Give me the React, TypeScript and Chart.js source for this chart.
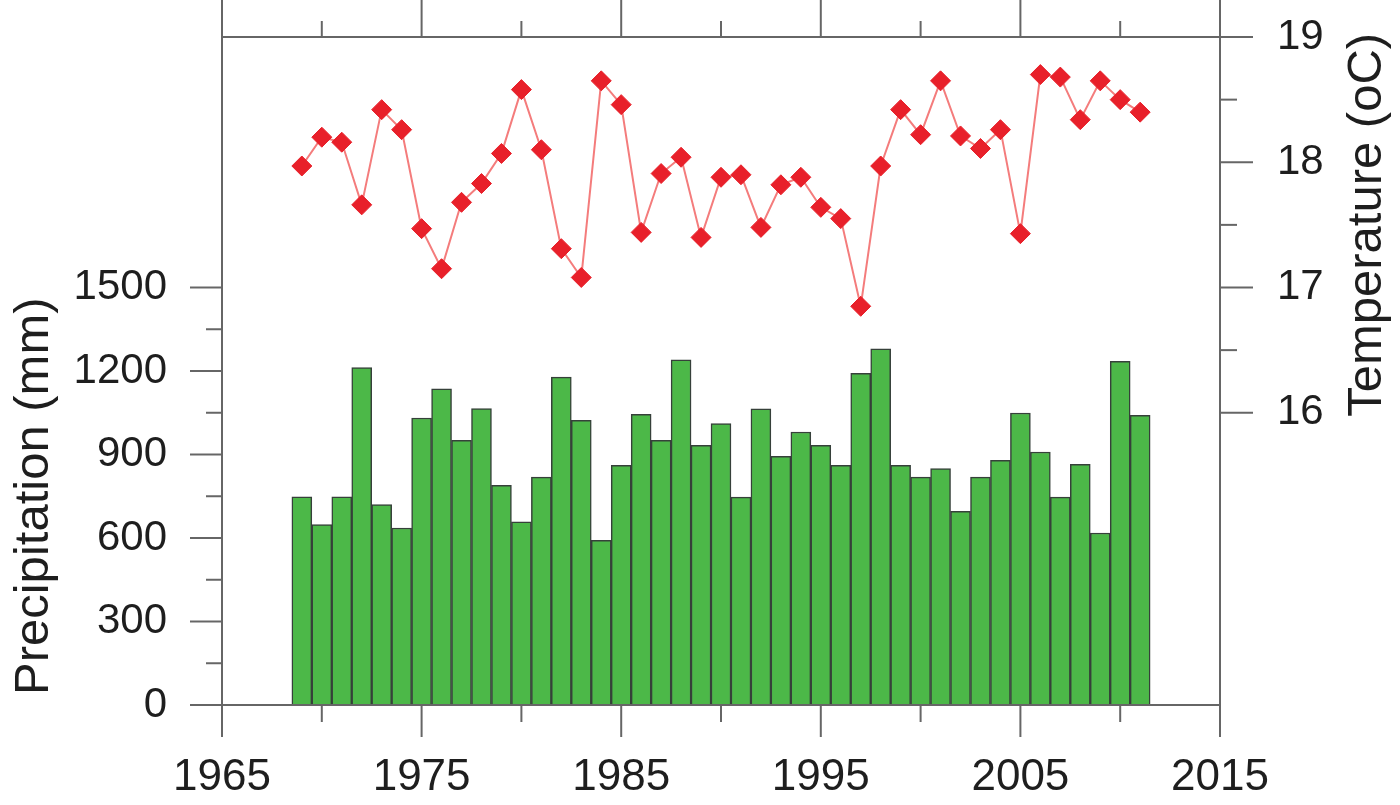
import React, { useEffect, useRef } from 'react';
import { Chart, registerables } from 'chart.js';

Chart.register(...registerables);

const years = [
  1969, 1970, 1971, 1972, 1973, 1974, 1975, 1976, 1977, 1978, 1979, 1980, 1981, 1982, 1983,
  1984, 1985, 1986, 1987, 1988, 1989, 1990, 1991, 1992, 1993, 1994, 1995, 1996, 1997, 1998,
  1999, 2000, 2001, 2002, 2003, 2004, 2005, 2006, 2007, 2008, 2009, 2010, 2011,
];

const precipitation = [
  748, 648, 748, 1212, 720, 636, 1031, 1136, 951, 1065, 789, 658, 819, 1178, 1023,
  592, 861, 1044, 951, 1240, 933, 1011, 747, 1064, 893, 981, 933, 861, 1192, 1280,
  861, 819, 849, 696, 819, 879, 1049, 909, 747, 865, 618, 1235, 1041,
];

const temperature = [
  17.97, 18.2, 18.16, 17.66, 18.42, 18.26, 17.47, 17.15, 17.68, 17.83, 18.07, 18.58, 18.1, 17.31, 17.08,
  18.65, 18.46, 17.44, 17.91, 18.04, 17.4, 17.88, 17.9, 17.48, 17.82, 17.88, 17.64, 17.55, 16.85, 17.97,
  18.42, 18.22, 18.65, 18.21, 18.11, 18.26, 17.43, 18.7, 18.68, 18.34, 18.65, 18.5, 18.4,
];

const xMajorTicks = [1965, 1975, 1985, 1995, 2005, 2015];
const xMinorTicks = [1970, 1980, 1990, 2000, 2010];
const precipMajorTicks = [0, 300, 600, 900, 1200, 1500];
const precipMinorTicks = [150, 450, 750, 1050, 1350];
const tempMajorTicks = [16, 17, 18, 19];
const tempMinorTicks = [16.5, 17.5, 18.5];

const precipTitle = 'Precipitation (mm)';
const tempTitle = 'Temperature (oC)';

const FONT = '"Liberation Sans", Arial, sans-serif';
const AXIS_COLOR = '#666666';
const TEXT_COLOR = '#1e1e1e';

const axesPlugin = {
  id: 'customAxes',
  afterDraw(chart: any) {
    const { ctx, chartArea, scales } = chart;
    const { left, right, top, bottom } = chartArea;
    const x = scales.x;
    const y = scales.y;
    const y2 = scales.y2;
    ctx.save();
    ctx.strokeStyle = AXIS_COLOR;
    ctx.lineWidth = 2;
    ctx.lineCap = 'butt';
    const line = (x1: number, y1: number, x2: number, y2p: number) => {
      ctx.beginPath();
      ctx.moveTo(x1, y1);
      ctx.lineTo(x2, y2p);
      ctx.stroke();
    };
    line(left, top, right, top);
    line(left, top, left, bottom);
    line(left, bottom, right, bottom);
    line(right, top, right, bottom);
    xMajorTicks.forEach((v) => {
      const px = x.getPixelForValue(v);
      line(px, bottom, px, bottom + 32);
      line(px, top, px, top - 40);
    });
    xMinorTicks.forEach((v) => {
      const px = x.getPixelForValue(v);
      line(px, bottom, px, bottom + 17);
      line(px, top, px, top - 16);
    });
    precipMajorTicks.forEach((v) => {
      const py = y.getPixelForValue(v);
      line(left - 32, py, left, py);
    });
    precipMinorTicks.forEach((v) => {
      const py = y.getPixelForValue(v);
      line(left - 16, py, left, py);
    });
    tempMajorTicks.forEach((v) => {
      const py = y2.getPixelForValue(v);
      line(right, py, right + 33, py);
    });
    tempMinorTicks.forEach((v) => {
      const py = y2.getPixelForValue(v);
      line(right, py, right + 17, py);
    });
    ctx.fillStyle = TEXT_COLOR;
    ctx.font = `49px ${FONT}`;
    ctx.textAlign = 'center';
    ctx.textBaseline = 'alphabetic';
    const pCenter = (y.getPixelForValue(0) + y.getPixelForValue(1500)) / 2;
    ctx.save();
    ctx.translate(48, pCenter);
    ctx.rotate(-Math.PI / 2);
    ctx.fillText(precipTitle, 0, 0);
    ctx.restore();
    const tCenter = (y2.getPixelForValue(16) + y2.getPixelForValue(19)) / 2;
    ctx.save();
    ctx.translate(1381, tCenter);
    ctx.rotate(-Math.PI / 2);
    ctx.fillText(tempTitle, 0, 0);
    ctx.restore();
    ctx.restore();
  },
};

const zeroPadV = (scale: any) => {
  scale.paddingTop = 0;
  scale.paddingBottom = 0;
};

export default function App() {
  const canvasRef = useRef<HTMLCanvasElement | null>(null);

  useEffect(() => {
    if (!canvasRef.current) return;
    const chart = new Chart(canvasRef.current, {
      type: 'bar',
      data: {
        datasets: [
          {
            type: 'line',
            label: 'Temperature',
            data: years.map((yr, i) => ({ x: yr, y: temperature[i] })),
            yAxisID: 'y2',
            xAxisID: 'x',
            borderColor: '#F47C7C',
            borderWidth: 2,
            tension: 0,
            pointStyle: 'rectRot',
            pointRadius: 10,
            pointBackgroundColor: '#E8202A',
            pointBorderColor: '#E8202A',
            pointBorderWidth: 1,
            order: 1,
          } as any,
          {
            type: 'bar',
            label: 'Precipitation',
            data: years.map((yr, i) => ({ x: yr, y: precipitation[i] })),
            yAxisID: 'y',
            xAxisID: 'x',
            backgroundColor: '#4CB848',
            borderColor: '#36403a',
            borderWidth: 1.5,
            barPercentage: 1,
            categoryPercentage: 1,
            order: 2,
          } as any,
        ],
      },
      options: {
        animation: false,
        responsive: false,
        maintainAspectRatio: false,
        layout: { padding: { top: 37, left: 0, right: 0, bottom: 0 } },
        plugins: {
          legend: { display: false },
          tooltip: { enabled: false },
          title: { display: false },
        },
        scales: {
          x: {
            type: 'linear',
            position: 'bottom',
            min: 1965,
            max: 2015,
            offset: false,
            grid: { display: false, drawTicks: false },
            border: { display: false },
            afterBuildTicks: (scale: any) => {
              scale.ticks = xMajorTicks.map((v) => ({ value: v }));
            },
            afterFit: (scale: any) => {
              scale.height = 100;
              scale.paddingLeft = 0;
              scale.paddingRight = 0;
            },
            ticks: {
              autoSkip: false,
              maxRotation: 0,
              minRotation: 0,
              padding: 46,
              color: TEXT_COLOR,
              font: { family: FONT, size: 44 },
              callback: (v: any) => String(v),
            },
          },
          y: {
            type: 'linear',
            position: 'left',
            min: 0,
            max: 2400,
            grid: { display: false, drawTicks: false },
            border: { display: false },
            afterBuildTicks: (scale: any) => {
              scale.ticks = precipMajorTicks.map((v) => ({ value: v }));
            },
            afterFit: (scale: any) => {
              scale.width = 222;
              zeroPadV(scale);
            },
            ticks: {
              padding: 55,
              color: TEXT_COLOR,
              font: { family: FONT, size: 42 },
              callback: (v: any) => String(v),
            },
          },
          y2: {
            type: 'linear',
            position: 'right',
            min: 17 - 1500 / 450,
            max: 19,
            grid: { display: false, drawTicks: false },
            border: { display: false },
            afterBuildTicks: (scale: any) => {
              scale.ticks = tempMajorTicks.map((v) => ({ value: v }));
            },
            afterFit: (scale: any) => {
              scale.width = 180;
              zeroPadV(scale);
            },
            ticks: {
              padding: 57,
              color: TEXT_COLOR,
              font: { family: FONT, size: 42 },
              callback: (v: any) => String(v),
            },
          },
        },
      },
      plugins: [axesPlugin],
    });
    return () => {
      chart.destroy();
    };
  }, []);

  return (
    <div style={{ position: 'absolute', left: 0, top: 0, width: 1400, height: 805, background: '#ffffff' }}>
      <canvas ref={canvasRef} width={1400} height={805} style={{ display: 'block' }} />
    </div>
  );
}
